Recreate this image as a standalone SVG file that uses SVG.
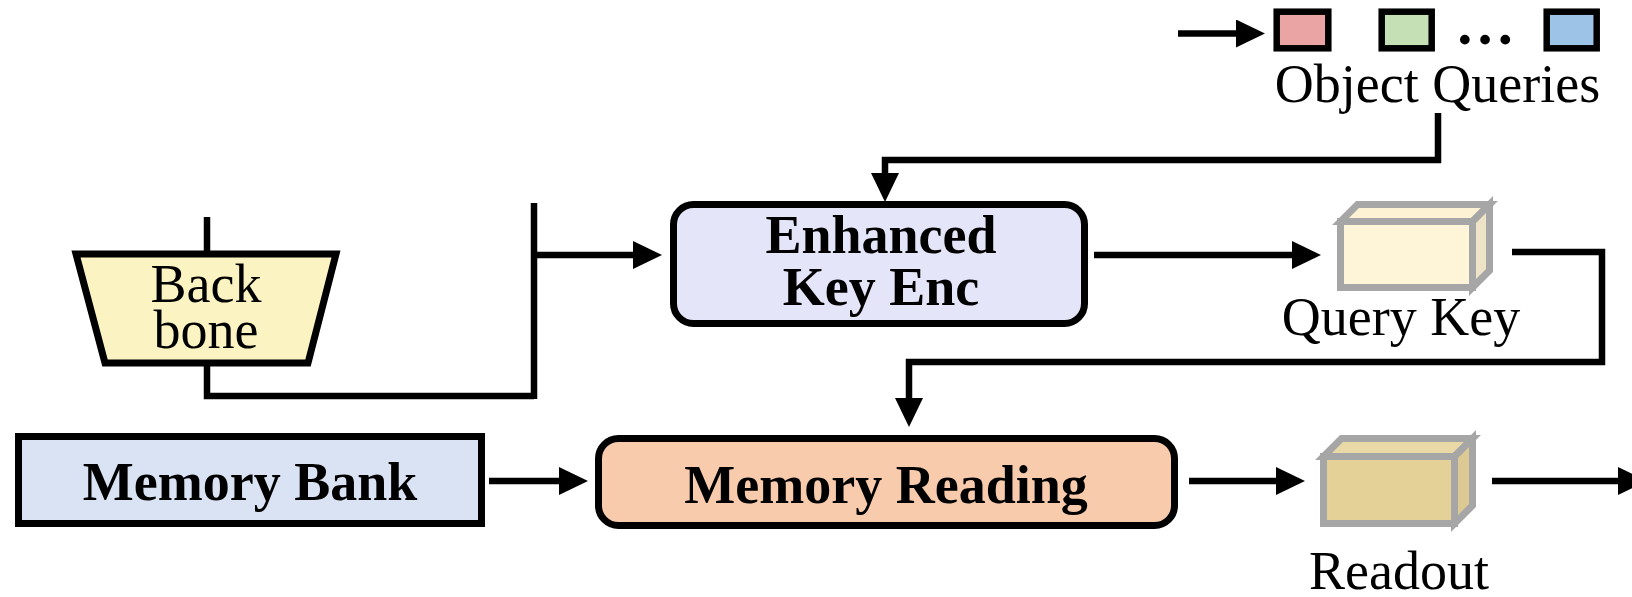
<svg xmlns="http://www.w3.org/2000/svg" width="1632" height="597" viewBox="0 0 1632 597">
<style>
.box{stroke:#000;stroke-width:7;stroke-linejoin:miter}
.cube{stroke:#A6A6A6;stroke-width:7;stroke-linejoin:miter}
.q{stroke:#000;stroke-width:6.5}
.conn{fill:none;stroke:#000;stroke-width:6.5;stroke-linejoin:miter;stroke-linecap:butt}
.reg{font-family:"Liberation Serif","Times New Roman",serif;font-size:54px;fill:#000;text-anchor:middle}
.bold{font-family:"Liberation Serif","Times New Roman",serif;font-size:54px;font-weight:bold;fill:#000;text-anchor:middle}
</style>
<defs>
<marker id="ah" markerUnits="userSpaceOnUse" markerWidth="30" markerHeight="30" refX="1" refY="14" orient="auto">
<path d="M0,0 L29,14 L0,28 z" fill="#000"/>
</marker>
</defs>
<rect width="1632" height="597" fill="#fff"/>

<g id="object-queries">
<rect class="q" x="1276.7" y="11.7" width="51.6" height="36.6" fill="#EBA4A4"/>
<rect class="q" x="1381.7" y="11.7" width="50" height="36.6" fill="#C6E0B5"/>
<text x="1485" y="44" font-family="Liberation Serif, serif" font-size="60" font-weight="bold" text-anchor="middle">…</text>
<rect class="q" x="1546.7" y="11.7" width="50" height="36.6" fill="#9DC3E6"/>
<text class="reg" x="1437.5" y="102">Object Queries</text>
</g>

<g id="backbone">
<polygon class="box" points="76,254 336,254 308,363 105,363" fill="#FBF3C2"/>
<text class="reg" x="206" y="302">Back</text>
<text class="reg" x="206" y="348">bone</text>
</g>

<g id="enhanced-key-enc">
<rect class="box" x="673.5" y="204.5" width="411" height="119" rx="20" ry="20" fill="#E5E5FA"/>
<text class="bold" x="881" y="253">Enhanced</text>
<text class="bold" x="881" y="305">Key Enc</text>
</g>

<g id="query-key">
<polygon class="cube" points="1340.5,221.5 1357.5,204.5 1489.5,204.5 1472.5,221.5" fill="#FDF2D3"/>
<polygon class="cube" points="1472.5,221.5 1489.5,204.5 1489.5,270.5 1472.5,287.5" fill="#EEE3C6"/>
<rect class="cube" x="1340.5" y="221.5" width="132" height="66" fill="#FEF4D8"/>
<text class="reg" x="1401" y="335">Query Key</text>
</g>

<g id="memory-bank">
<rect class="box" x="18.5" y="436.5" width="463" height="87" fill="#DAE3F3"/>
<text class="bold" x="250" y="500">Memory Bank</text>
</g>

<g id="memory-reading">
<rect class="box" x="598.5" y="438.5" width="576" height="87" rx="20" ry="20" fill="#F8CBAD"/>
<text class="bold" x="886" y="503">Memory Reading</text>
</g>

<g id="readout">
<polygon class="cube" points="1323.5,456.5 1341.5,438.5 1472.5,438.5 1454.5,456.5" fill="#E9D9A6"/>
<polygon class="cube" points="1454.5,456.5 1472.5,438.5 1472.5,505.5 1454.5,523.5" fill="#DDC994"/>
<rect class="cube" x="1323.5" y="456.5" width="131" height="67" fill="#E3D197"/>
<text class="reg" x="1399" y="589">Readout</text>
</g>

<g id="connectors">
<path class="conn" d="M1178,33.5 H1237" marker-end="url(#ah)"/>
<path class="conn" d="M1438,113 V160 H885 V174" marker-end="url(#ah)"/>
<path class="conn" d="M207,217 V254"/>
<path class="conn" d="M207,363 V396 H534"/>
<path class="conn" d="M534,203 V399"/>
<path class="conn" d="M534,255 H634" marker-end="url(#ah)"/>
<path class="conn" d="M1094,255 H1293" marker-end="url(#ah)"/>
<path class="conn" d="M1512,252 H1602 V362 H909 V399" marker-end="url(#ah)"/>
<path class="conn" d="M489,481 H560" marker-end="url(#ah)"/>
<path class="conn" d="M1189,481 H1277" marker-end="url(#ah)"/>
<path class="conn" d="M1492,481 H1619" marker-end="url(#ah)"/>
</g>
</svg>
